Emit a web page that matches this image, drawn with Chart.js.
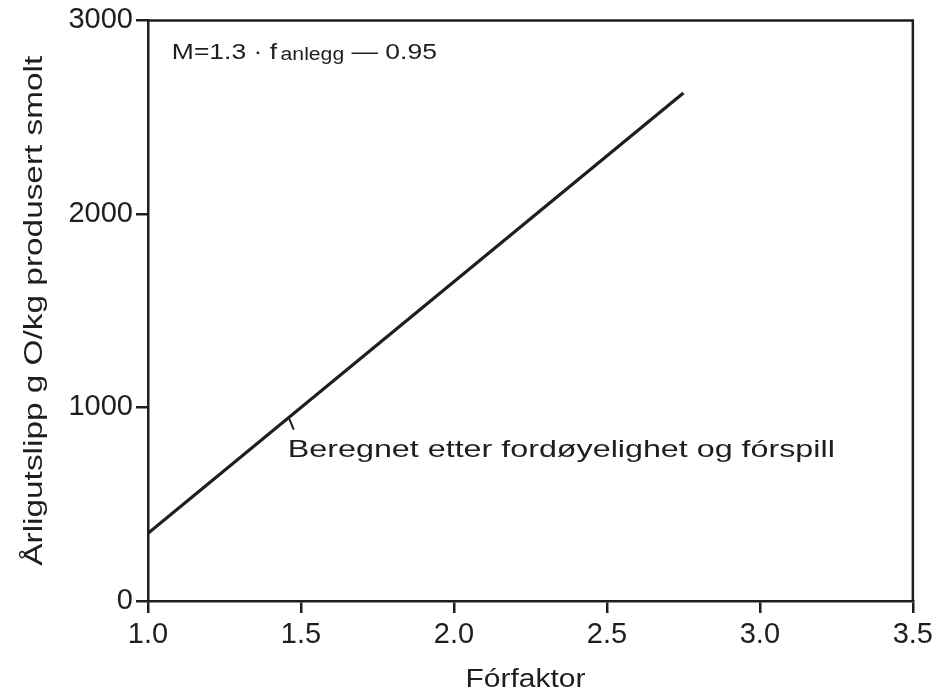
<!DOCTYPE html>
<html>
<head>
<meta charset="utf-8">
<script src="https://cdn.jsdelivr.net/npm/chart.js@4"></script>
<style>
  html, body { margin: 0; padding: 0; background: #fff; }
  #wrap { width: 938px; height: 695px; position: relative; }
</style>
</head>
<body>
<div id="wrap"><canvas id="c" width="938" height="695"></canvas></div>
<script>
// ---- data ----
const fFaktor = [1.0, 2.75];          // Fórfaktor (x)
const utslipp = [350, 2625];          // Årligutslipp g O/kg (y)
const xTicks = [1.0, 1.5, 2.0, 2.5, 3.0, 3.5];
const yTicks = [0, 1000, 2000, 3000];
const xTitle = 'Fórfaktor';
const yTitle = 'Årligutslipp g O/kg produsert smolt';
const lineLabel = 'Beregnet etter fordøyelighet og fórspill';
const formulaMain = 'M=1.3 · f';
const formulaSub = 'anlegg';
const formulaTail = ' — 0.95';

const FONT = '"Liberation Sans", Arial, Helvetica, sans-serif';
const INK = '#1e1e1e';

// draw text stretched horizontally to a given width (the original face is wide)
function stretchText(ctx, text, x, y, width, align) {
  const w = ctx.measureText(text).width;
  const s = width / w;
  ctx.save();
  ctx.translate(x, y);
  ctx.scale(s, 1);
  ctx.textAlign = align || 'left';
  ctx.fillText(text, 0, 0);
  ctx.restore();
}

const framePlugin = {
  id: 'frame',
  beforeDatasetsDraw(chart) {
    const { ctx, chartArea: a } = chart;
    ctx.save();
    ctx.strokeStyle = INK;
    ctx.lineWidth = 2.5;
    ctx.beginPath();
    ctx.moveTo(a.left, a.top);
    ctx.lineTo(a.right, a.top);
    ctx.lineTo(a.right, a.bottom);
    ctx.stroke();
    ctx.restore();
  }
};

const notePlugin = {
  id: 'notes',
  afterDatasetsDraw(chart) {
    const { ctx, chartArea: a } = chart;
    const x = chart.scales.x, y = chart.scales.y;
    ctx.save();
    ctx.fillStyle = INK;
    ctx.strokeStyle = INK;
    ctx.textBaseline = 'alphabetic';
    ctx.textAlign = 'left';

    // formula  M=1.3 · f_anlegg — 0.95
    const fx = x.getPixelForValue(1.078), fy = y.getPixelForValue(2800);
    ctx.font = '22.5px ' + FONT;
    const w1 = ctx.measureText(formulaMain).width;
    const w3 = ctx.measureText(formulaTail).width;
    ctx.font = '18px ' + FONT;
    const w2 = ctx.measureText(formulaSub).width;
    const gap = 3;
    const total = w1 + gap + w2 + w3;
    const s = 265 / total;
    ctx.save();
    ctx.translate(fx, fy);
    ctx.scale(s, 1);
    ctx.font = '22.5px ' + FONT;
    ctx.fillText(formulaMain, 0, 0);
    ctx.font = '18px ' + FONT;
    ctx.fillText(formulaSub, w1 + gap, 1);
    ctx.font = '22.5px ' + FONT;
    ctx.fillText(formulaTail, w1 + gap + w2, 0);
    ctx.restore();

    // pointer from line to label
    const lx = 1.46;
    const ly = utslipp[0] + (utslipp[1] - utslipp[0]) * (lx - fFaktor[0]) / (fFaktor[1] - fFaktor[0]);
    const p0x = x.getPixelForValue(lx), p0y = y.getPixelForValue(ly);
    ctx.lineWidth = 2;
    ctx.beginPath();
    ctx.moveTo(p0x, p0y);
    ctx.lineTo(p0x + 5, p0y + 12);
    ctx.stroke();

    ctx.font = '24px ' + FONT;
    stretchText(ctx, lineLabel, x.getPixelForValue(1.457), y.getPixelForValue(745), 547, 'left');

    // axis titles
    ctx.font = '26px ' + FONT;
    stretchText(ctx, xTitle, (a.left + a.right) / 2 - 5, 687, 120, 'center');

    ctx.font = '26px ' + FONT;
    ctx.save();
    ctx.translate(42, (a.top + a.bottom) / 2);
    ctx.rotate(-Math.PI / 2);
    stretchText(ctx, yTitle, 0, 0, 510, 'center');
    ctx.restore();

    ctx.restore();
  }
};

new Chart(document.getElementById('c'), {
  type: 'line',
  data: {
    datasets: [{
      data: fFaktor.map((v, i) => ({ x: v, y: utslipp[i] })),
      borderColor: INK,
      borderWidth: 3.2,
      pointRadius: 0,
      tension: 0,
      fill: false
    }]
  },
  options: {
    responsive: false,
    animation: false,
    layout: { padding: { top: 20, right: 25, left: 0, bottom: 0 } },
    plugins: { legend: { display: false }, tooltip: { enabled: false } },
    scales: {
      x: {
        type: 'linear',
        min: 1, max: 3.5,
        afterFit(s) { s.height = 94; },
        afterBuildTicks(s) { s.ticks = xTicks.map(v => ({ value: v })); },
        ticks: {
          color: INK,
          font: { size: 29, family: FONT },
          padding: 5,
          maxRotation: 0,
          callback: v => Number(v).toFixed(1)
        },
        grid: { drawOnChartArea: false, drawTicks: true, tickLength: 12, color: INK, lineWidth: 2.5 },
        border: { display: true, color: INK, width: 2.5 },
        title: { display: false }
      },
      y: {
        min: 0, max: 3000,
        afterFit(s) { s.width = 148; },
        afterBuildTicks(s) { s.ticks = yTicks.map(v => ({ value: v })); },
        ticks: {
          color: INK,
          font: { size: 29, family: FONT },
          padding: 3,
          callback: v => String(v)
        },
        grid: { drawOnChartArea: false, drawTicks: true, tickLength: 12, color: INK, lineWidth: 2.5 },
        border: { display: true, color: INK, width: 2.5 },
        title: { display: false }
      }
    }
  },
  plugins: [framePlugin, notePlugin]
});
</script>
</body>
</html>
